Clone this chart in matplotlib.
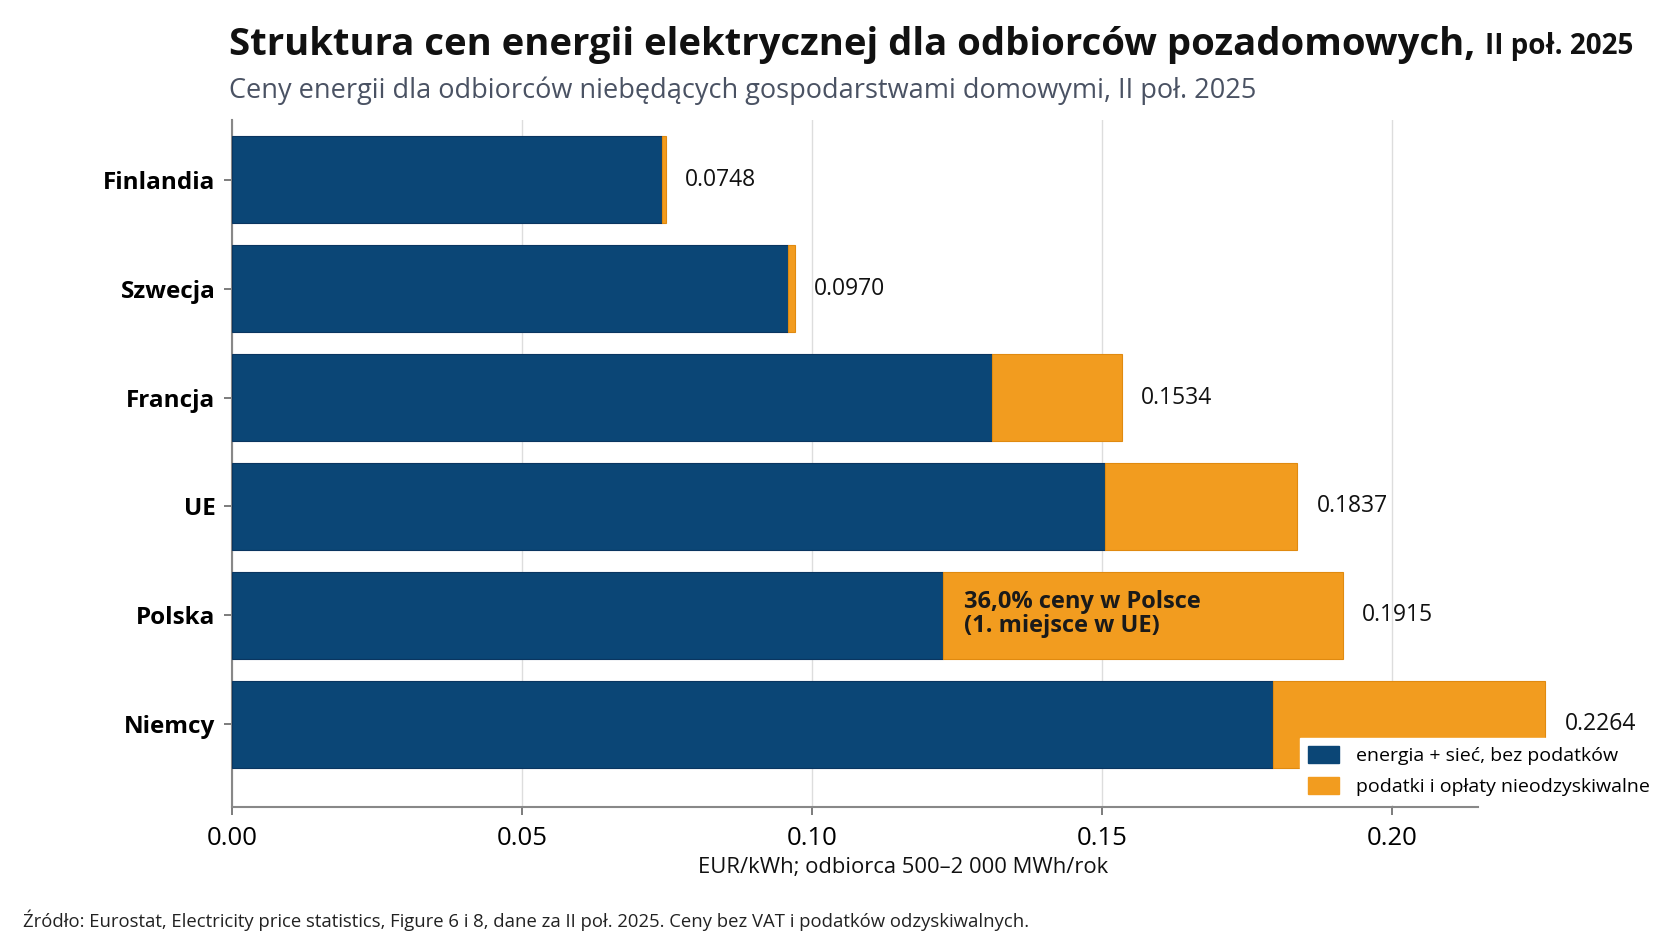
import matplotlib
matplotlib.use("Agg")
import matplotlib.pyplot as plt
from matplotlib.patches import Patch

# dane: EUR/kWh, II poł. 2025
kraje = ["Finlandia", "Szwecja", "Francja", "UE", "Polska", "Niemcy"]
sumy = [0.0748, 0.0970, 0.1534, 0.1837, 0.1915, 0.2264]
energia_siec = [0.0741, 0.0959, 0.1311, 0.1506, 0.1226, 0.1795]
podatki = [s - e for s, e in zip(sumy, energia_siec)]
etykiety = ["%.4f" % s for s in sumy]
xticks = [0.00, 0.05, 0.10, 0.15, 0.20]

BLUE = "#0b4676"
ORANGE = "#f29c1f"

plt.rcParams['font.family'] = ['Open Sans', 'DejaVu Sans']

W, H = 1659, 948
fig = plt.figure(figsize=(W / 100, H / 100), dpi=100)
ax = fig.add_axes([232 / W, 1 - 807 / H, (1478 - 232) / W, (807 - 120) / H])

y = list(range(len(kraje)))
ax.barh(y, energia_siec, height=0.8, color=BLUE, edgecolor="#0a3560", linewidth=0.8, zorder=3)
ax.barh(y, podatki, left=energia_siec, height=0.8, color=ORANGE, edgecolor="#e08a10",
        linewidth=0.8, zorder=3, clip_on=False)

for yi, s, lab in zip(y, sumy, etykiety):
    ax.annotate(lab, xy=(s, yi), xytext=(14, 0), textcoords="offset points",
                ha="left", va="center", fontsize=16.5, color="#111111", annotation_clip=False)

pl = kraje.index("Polska")
ax.annotate("36,0% ceny w Polsce\n(1. miejsce w UE)", xy=(energia_siec[pl], pl), xytext=(15, 1),
            textcoords="offset points", ha="left", va="center", fontsize=17, fontweight="bold",
            color="#1a1a1a", linespacing=1.0, zorder=5)

ax.set_xlim(0, 1246 / 5800)
ax.set_ylim(5.757, -0.546)
ax.set_yticks(y)
ax.set_yticklabels(kraje, fontsize=17.5, fontweight="bold")
ax.set_xticks(xticks)
ax.set_xticklabels(["%.2f" % t for t in xticks], fontsize=18.5)
ax.tick_params(axis="y", length=6, width=1.2, color="#666666", pad=6)
ax.tick_params(axis="x", length=6, width=1.2, color="#666666", pad=8)
ax.grid(axis="x", color="#dddddd", linewidth=1, zorder=0)
for side in ["top", "right"]:
    ax.spines[side].set_visible(False)
for side in ["left", "bottom"]:
    ax.spines[side].set_color("#888888")
    ax.spines[side].set_linewidth(1.5)

handles = [Patch(facecolor=BLUE, edgecolor=BLUE), Patch(facecolor=ORANGE, edgecolor=ORANGE)]
leg = fig.legend(handles, ["energia + sieć, bez podatków", "podatki i opłaty nieodzyskiwalne"],
                 loc="upper left", bbox_to_anchor=(1300 / W, 1 - 738 / H), fontsize=14,
                 frameon=True, fancybox=False, framealpha=1, edgecolor="white",
                 handlelength=1.6, handleheight=1.0, handletextpad=0.9, labelspacing=0.6,
                 borderpad=0.4, borderaxespad=0)
leg.set_zorder(10)

tytul = fig.text(229 / W, 1 - 64 / H, "Struktura cen energii elektrycznej dla odbiorców pozadomowych,",
                 fontsize=27.5, fontweight="bold", color="#111111", ha="left", va="bottom")
ax.annotate("II poł. 2025", xy=(1, 0), xycoords=tytul, xytext=(7, 2), textcoords="offset points",
            fontsize=20, fontweight="bold", color="#111111", ha="left", va="bottom",
            annotation_clip=False)
fig.text(229 / W, 1 - 98 / H,
         "Ceny energii dla odbiorców niebędących gospodarstwami domowymi, II poł. 2025",
         fontsize=19.5, color="#4a5263", ha="left", va="baseline")
fig.text(903 / W, 1 - 868 / H, "EUR/kWh; odbiorca 500–2 000 MWh/rok", fontsize=15.8,
         color="#111111", ha="center", va="center")
fig.text(23 / W, 1 - 920 / H,
         "Źródło: Eurostat, Electricity price statistics, Figure 6 i 8, dane za II poł. 2025. "
         "Ceny bez VAT i podatków odzyskiwalnych.",
         fontsize=13.3, color="#222222", ha="left", va="center")

fig.savefig("out.png", dpi=100, facecolor="white")
